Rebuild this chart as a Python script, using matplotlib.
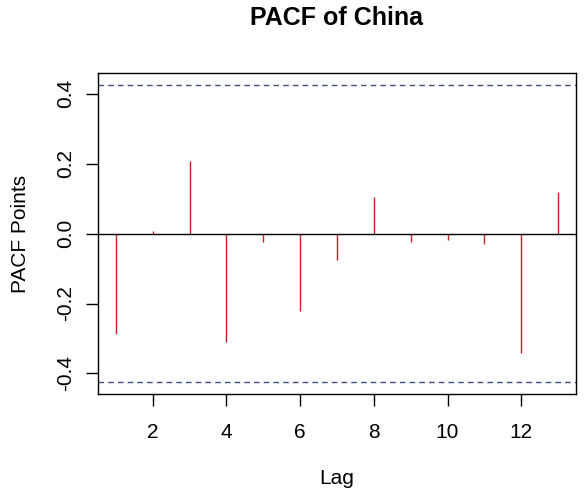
import matplotlib
matplotlib.use('Agg')
import matplotlib.pyplot as plt

# PACF values
lags = [1, 2, 3, 4, 5, 6, 7, 8, 9, 10, 11, 12, 13]
pacf = [-0.288, 0.009, 0.209, -0.309, -0.025, -0.222, -0.074,
        0.104, -0.025, -0.017, -0.031, -0.342, 0.120]
conf_limit = 0.425
xticks = [2, 4, 6, 8, 10, 12]
yticks = [-0.4, -0.2, 0.0, 0.2, 0.4]

plt.rcParams['font.family'] = ['Liberation Sans', 'DejaVu Sans']

fig = plt.figure(figsize=(5.86, 4.99), dpi=100)
ax = fig.add_axes([98.3 / 586, 1 - 394 / 499, (575.7 - 98.3) / 586, (394 - 73.3) / 499])

ax.vlines(lags, 0, pacf, color='#cc1f2a', linewidth=1.0)
ax.axhline(0, color='black', linewidth=1.0)
ax.axhline(conf_limit, color='#3d4f7d', linewidth=1.0, linestyle=(0, (4, 3)))
ax.axhline(-conf_limit, color='#3d4f7d', linewidth=1.0, linestyle=(0, (4, 3)))

ax.set_xlim(0.52, 13.48)
ax.set_ylim(-0.459, 0.459)
ax.set_xticks(xticks)
ax.set_yticks(yticks)
ax.set_yticklabels([f'{v:.1f}' for v in yticks], rotation=90, va='center')
ax.tick_params(length=8.6, width=1, labelsize=15, direction='out')
ax.tick_params(axis='x', pad=12)
ax.tick_params(axis='y', pad=8)
for s in ax.spines.values():
    s.set_linewidth(1.0)

ax.set_xlabel('Lag', fontsize=15, labelpad=20)
ax.set_ylabel('PACF Points', fontsize=15, labelpad=19)
fig.text(337 / 586, 1 - 18 / 499, 'PACF of China', ha='center', va='center',
         fontsize=18, fontweight='bold')

fig.savefig('out.png', dpi=100, facecolor='white')
plt.close(fig)
